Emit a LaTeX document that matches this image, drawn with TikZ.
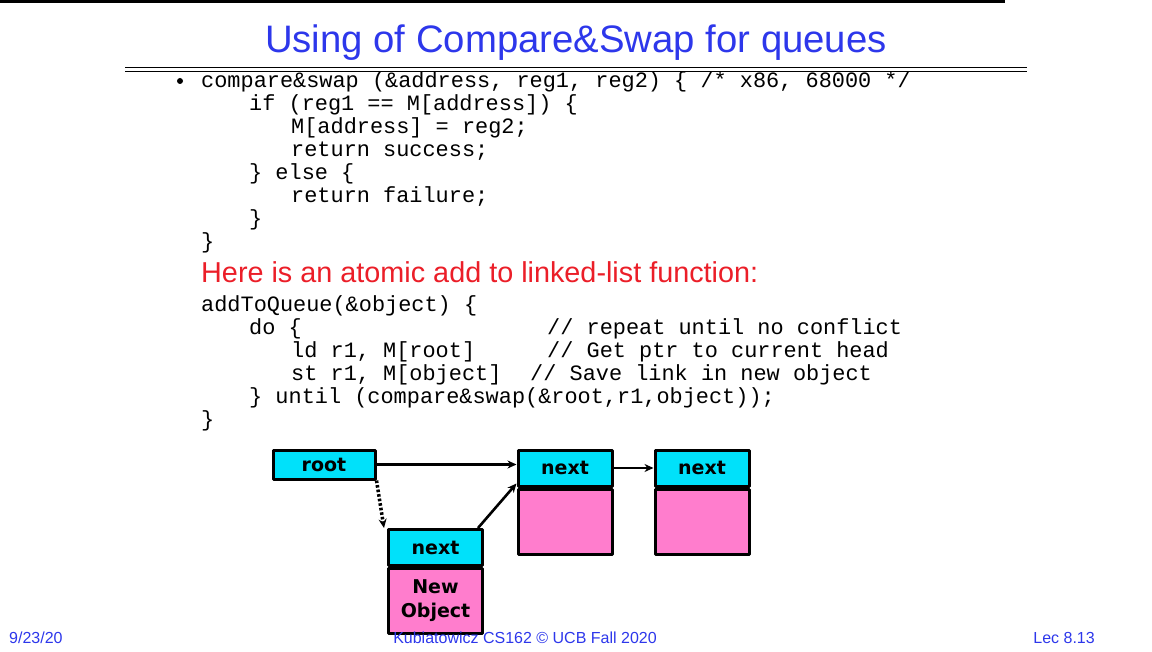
\documentclass[tikz,border=0pt]{standalone}
\usepackage{fontspec}
\setmainfont{Liberation Sans}
\setmonofont{Liberation Mono}
\newfontfamily\cellfont{DejaVu Sans}
\usetikzlibrary{positioning,arrows.meta}
\definecolor{titleblue}{RGB}{45,55,235}
\definecolor{hotred}{RGB}{235,30,40}
\definecolor{cellcyan}{RGB}{0,225,250}
\definecolor{cellpink}{RGB}{255,125,205}
\tikzset{
  code/.style={anchor=base west, inner sep=0pt, font=\fontsize{21.9}{23}\selectfont\ttfamily},
  foot/.style={inner sep=0pt, font=\fontsize{16}{18}\selectfont, text=titleblue},
  cell/.style={draw, line width=3pt, minimum width=94pt, inner sep=1pt, font=\fontsize{19}{24}\selectfont\cellfont\bfseries},
  head/.style={cell, fill=cellcyan, minimum height=36pt},
  body/.style={cell, fill=cellpink, minimum height=65pt, align=center},
  link/.style={line width=2.6pt, -{Stealth[length=9pt,width=8pt]}}
}
\begin{document}
\begin{tikzpicture}[x=1pt, y=-1pt, line join=round]
  \useasboundingbox (0,0) rectangle (1152,652);
  \fill (0,0) rectangle (1005,3);
  \node[text=titleblue, font=\fontsize{38.3}{40}\selectfont] (title) at (576,43) {Using of Compare\&Swap for queues};
  \draw[line width=1.2pt] (125,67.5) -- (1027,67.5) (125,71.5) -- (1027,71.5);

  % compare&swap
  \fill (180,81) circle (3pt);
  \node[code] (c1) at (201,88)  {compare\&swap (\&address, reg1, reg2) \{ /* x86, 68000 */};
  \node[code] (c2) at (249,111) {if (reg1 == M[address]) \{};
  \node[code] (c3) at (291,134) {M[address] = reg2;};
  \node[code] (c4) at (291,157) {return success;};
  \node[code] (c5) at (249,180) {\} else \{};
  \node[code] (c6) at (291,203) {return failure;};
  \node[code] (c7) at (249,226) {\}};
  \node[code] (c8) at (201,249) {\}};

  \node[anchor=base west, inner sep=0pt, text=hotred, font=\fontsize{28.8}{30}\selectfont] (intro) at (201,283) {Here is an atomic add to linked-list function:};

  % addToQueue
  \node[code] (q1) at (201,312) {addToQueue(\&object) \{};
  \node[code] (q2) at (249,335) {do \{};
  \node[code] (q3) at (291,358) {ld r1, M[root]};
  \node[code] (q4) at (291,381) {st r1, M[object]};
  \node[code] (q5) at (249,404) {\} until (compare\&swap(\&root,r1,object));};
  \node[code] (q6) at (201,427) {\}};
  \node[code] (k2) at (547,335) {// repeat until no conflict};
  \node[code] (k3) at (547,358) {// Get ptr to current head};
  \node[code] (k4) at (530,381) {// Save link in new object};

  % linked list
  \node[head, minimum width=102pt, minimum height=29pt] (root) at (324,464.5) {root};
  \node[head] (nextA) at (565,468) {next};
  \node[body, below=0pt of nextA] (dataA) {};
  \node[head] (nextB) at (702,468) {next};
  \node[body, below=0pt of nextB] (dataB) {};
  \node[head] (nextN) at (435.5,547.5) {next};
  \node[body, below=0pt of nextN] (dataN) {New\\Object};

  \draw[link] (root.east) -- (root.east -| nextA.west);
  \draw[link] (nextA.east) -- (nextB.west);
  \draw[link, dotted, line width=3.5pt] (root.south east) -- ([xshift=-3pt]nextN.north west);
  \draw[link] ([xshift=-6pt]nextN.north east) -- ([yshift=4pt]nextA.south west);

  % footer
  \node[foot, anchor=west] (date) at (9,638) {9/23/20};
  \node[foot] (credit) at (525,638) {Kubiatowicz CS162 © UCB Fall 2020};
  \node[foot, anchor=east] (lec) at (1095,638) {Lec 8.13};
\end{tikzpicture}
\end{document}
